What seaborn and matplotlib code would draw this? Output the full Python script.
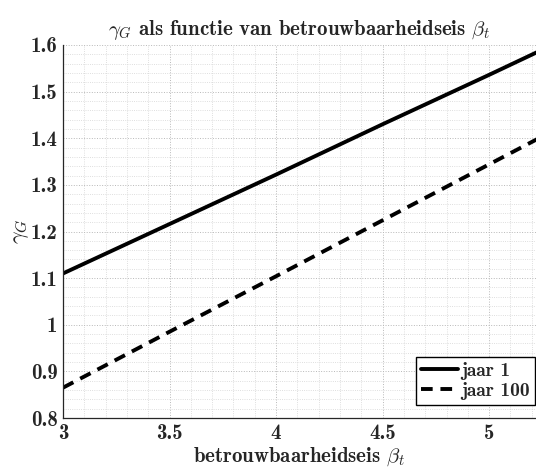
import matplotlib
matplotlib.use("Agg")
import matplotlib.pyplot as plt
import seaborn as sns
import numpy as np
import pandas as pd
from matplotlib.ticker import MultipleLocator

# data
beta = [3.0, 3.5, 4.0, 4.5, 5.0, 5.25]
gamma_jaar1 = [1.11, 1.216, 1.322, 1.43, 1.536, 1.59]
gamma_jaar100 = [0.865, 0.985, 1.104, 1.224, 1.344, 1.404]
series_labels = ["jaar 1", "jaar 100"]
xticks = [3, 3.5, 4, 4.5, 5]
yticks = [0.8, 0.9, 1.0, 1.1, 1.2, 1.3, 1.4, 1.5, 1.6]
ytick_labels = ["0.8", "0.9", "1", "1.1", "1.2", "1.3", "1.4", "1.5", "1.6"]

sns.set_style("white")
plt.rcParams["font.family"] = ["cmb10", "DejaVu Sans"]
plt.rcParams["mathtext.fontset"] = "cm"
plt.rcParams["axes.unicode_minus"] = False

FS = 15

fig = plt.figure(figsize=(5.36, 4.68), dpi=100)
ax = fig.add_axes([63 / 536, (468 - 418) / 468, (536 - 63) / 536, (418 - 45) / 468])

df = pd.DataFrame({
    "beta": beta * 2,
    "gamma": gamma_jaar1 + gamma_jaar100,
    "serie": [series_labels[0]] * len(beta) + [series_labels[1]] * len(beta),
})
sns.lineplot(data=df, x="beta", y="gamma", style="serie", ax=ax,
             color="black", linewidth=2.8,
             dashes={series_labels[0]: "", series_labels[1]: (3, 2)})

ax.set_xlim(3, 5.22)
ax.set_ylim(0.8, 1.6)
ax.set_xticks(xticks)
ax.set_xticklabels([("%g" % v) for v in xticks])
ax.set_yticks(yticks)
ax.set_yticklabels(ytick_labels)
ax.xaxis.set_minor_locator(MultipleLocator(0.1))
ax.yaxis.set_minor_locator(MultipleLocator(0.02))

ax.grid(True, which="major", linestyle=":", color="#b8b8b8", linewidth=0.7)
ax.grid(True, which="minor", linestyle=":", color="#d4d4d4", linewidth=0.6)
ax.set_axisbelow(True)

for s in ["top", "right"]:
    ax.spines[s].set_visible(False)
for s in ["left", "bottom"]:
    ax.spines[s].set_color("#262626")
    ax.spines[s].set_linewidth(0.9)

ax.tick_params(axis="both", which="major", direction="in", length=4, width=0.8,
               labelsize=FS, pad=4, color="#262626")
ax.tick_params(axis="both", which="minor", length=0)

ax.set_xlabel(r"betrouwbaarheidseis $\beta_t$", fontsize=FS, labelpad=2)
ax.set_ylabel(r"$\gamma_G$", fontsize=FS + 1, labelpad=0)
ax.set_title(r"$\gamma_G$ als functie van betrouwbaarheidseis $\beta_t$",
             fontsize=FS, pad=7)

leg = ax.legend(loc="lower right", bbox_to_anchor=(0.997, 0.035), fontsize=14,
                frameon=True, fancybox=False, edgecolor="black", framealpha=1,
                handlelength=1.9, handletextpad=0.15, borderpad=0.25,
                labelspacing=0.1, borderaxespad=0.0, title=None)
leg.get_frame().set_linewidth(1.0)

fig.savefig("out.png", dpi=100)
